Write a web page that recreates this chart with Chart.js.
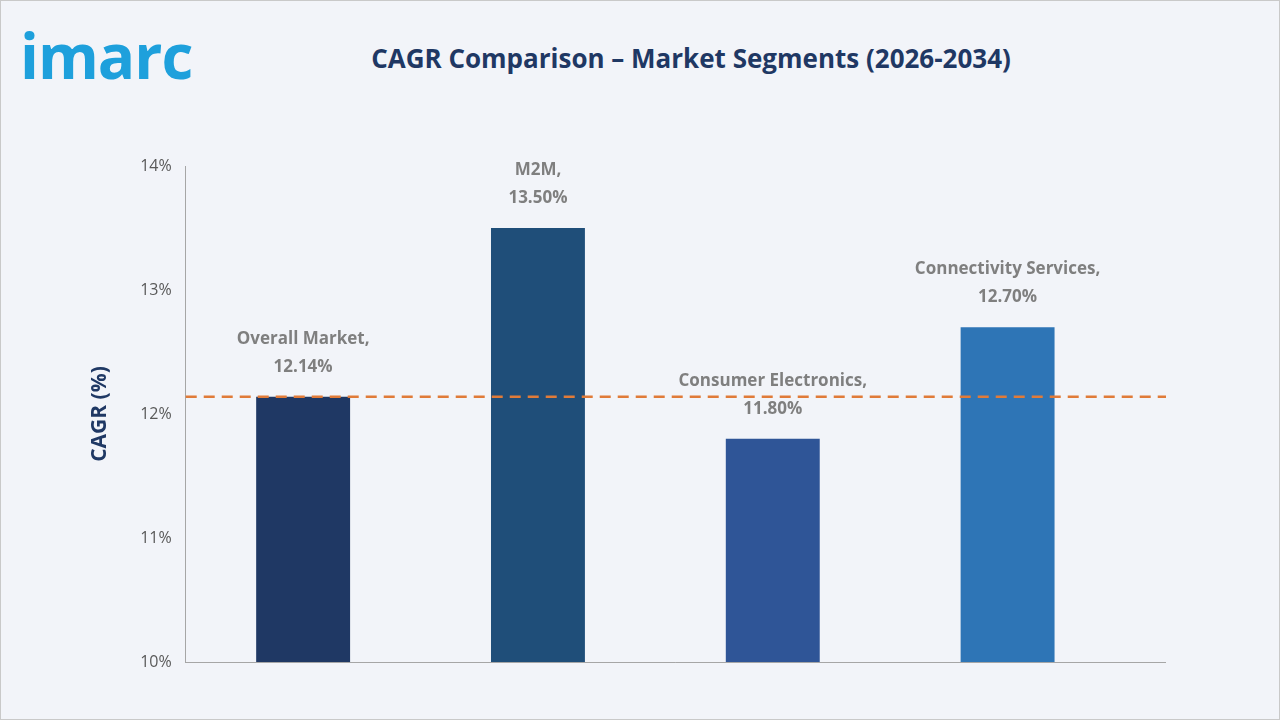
<!DOCTYPE html>
<html><head><meta charset="utf-8">
<script src="https://cdn.jsdelivr.net/npm/chart.js@4.4.0/dist/chart.umd.min.js"></script>
<style>
html,body{margin:0;padding:0;background:#f2f4f9;}
#wrap{position:absolute;left:0;top:0;width:1278px;height:718px;border:1px solid #c9c9c9;background:#f2f4f9;}
#logo{position:absolute;left:19px;top:12px;font:bold 62px "Open Sans",sans-serif;color:#1ea0dc;letter-spacing:-1px;}
#title{position:absolute;left:0;width:1380px;top:39px;text-align:center;font:bold 26px "Open Sans",sans-serif;color:#1f3864;}
#c{position:absolute;left:0;top:0;}
</style></head><body>
<div id="wrap">
<div id="logo">imarc</div>
<div id="title">CAGR Comparison – Market Segments (2026-2034)</div>
<canvas id="c" width="1278" height="718"></canvas>
</div>
<script>
var categories = ['Overall Market', 'M2M', 'Consumer Electronics', 'Connectivity Services'];
var cagrValues = [12.14, 13.5, 11.8, 12.7];
var barColors = ['#1f3864', '#1f4e79', '#2f5597', '#2e75b6'];
var overallLine = 12.14;
var axisRight = 1165;

var labelPlugin = {
    id: 'labels',
    afterDatasetsDraw(chart) {
        let ctx = chart.ctx, meta = chart.getDatasetMeta(0), y = chart.scales.y, area = chart.chartArea;
        let left = y.right;
        ctx.save();
        // bottom axis line
        ctx.strokeStyle = '#a6a6a6';
        ctx.lineWidth = 1;
        ctx.beginPath();
        ctx.moveTo(left, Math.round(area.bottom) + 0.5);
        ctx.lineTo(axisRight, Math.round(area.bottom) + 0.5);
        ctx.stroke();
        // dashed reference line
        ctx.strokeStyle = '#e07b39';
        ctx.lineWidth = 2.5;
        ctx.setLineDash([11, 7]);
        ctx.beginPath();
        ctx.moveTo(left, y.getPixelForValue(overallLine));
        ctx.lineTo(axisRight, y.getPixelForValue(overallLine));
        ctx.stroke();
        ctx.setLineDash([]);
        ctx.fillStyle = '#7f7f7f';
        ctx.font = 'bold 17px "Open Sans", sans-serif';
        ctx.textAlign = 'center';
        meta.data.forEach((bar, i) => {
            ctx.fillText(categories[i] + ',', bar.x, bar.y - 53);
            ctx.fillText(cagrValues[i].toFixed(2) + '%', bar.x, bar.y - 25);
        });
        ctx.restore();
    }
};

new Chart(document.getElementById('c'), {
    type: 'bar',
    data: {
        labels: categories,
        datasets: [{ data: cagrValues, backgroundColor: barColors, barPercentage: 0.8, categoryPercentage: 0.5 }]
    },
    options: {
        responsive: false,
        animation: false,
        layout: { padding: { left: 66, right: 154, top: 165, bottom: 57 } },
        plugins: { legend: { display: false }, tooltip: { enabled: false } },
        scales: {
            x: {
                ticks: { display: false },
                grid: { display: false, drawTicks: false },
                border: { display: false }
            },
            y: {
                min: 10, max: 14,
                ticks: { stepSize: 1, color: '#595959', font: { size: 16, family: '"Open Sans", sans-serif' }, callback: v => v + '%', padding: 8 },
                grid: { display: false, drawTicks: true, tickLength: 6, tickColor: '#a6a6a6', drawOnChartArea: false },
                border: { color: '#a6a6a6', width: 1 },
                title: { display: true, text: 'CAGR (%)', color: '#1f3864', font: { size: 21, weight: 'bold', family: '"Open Sans", sans-serif' }, padding: 20 }
            }
        }
    },
    plugins: [labelPlugin]
});
</script>
</body></html>
